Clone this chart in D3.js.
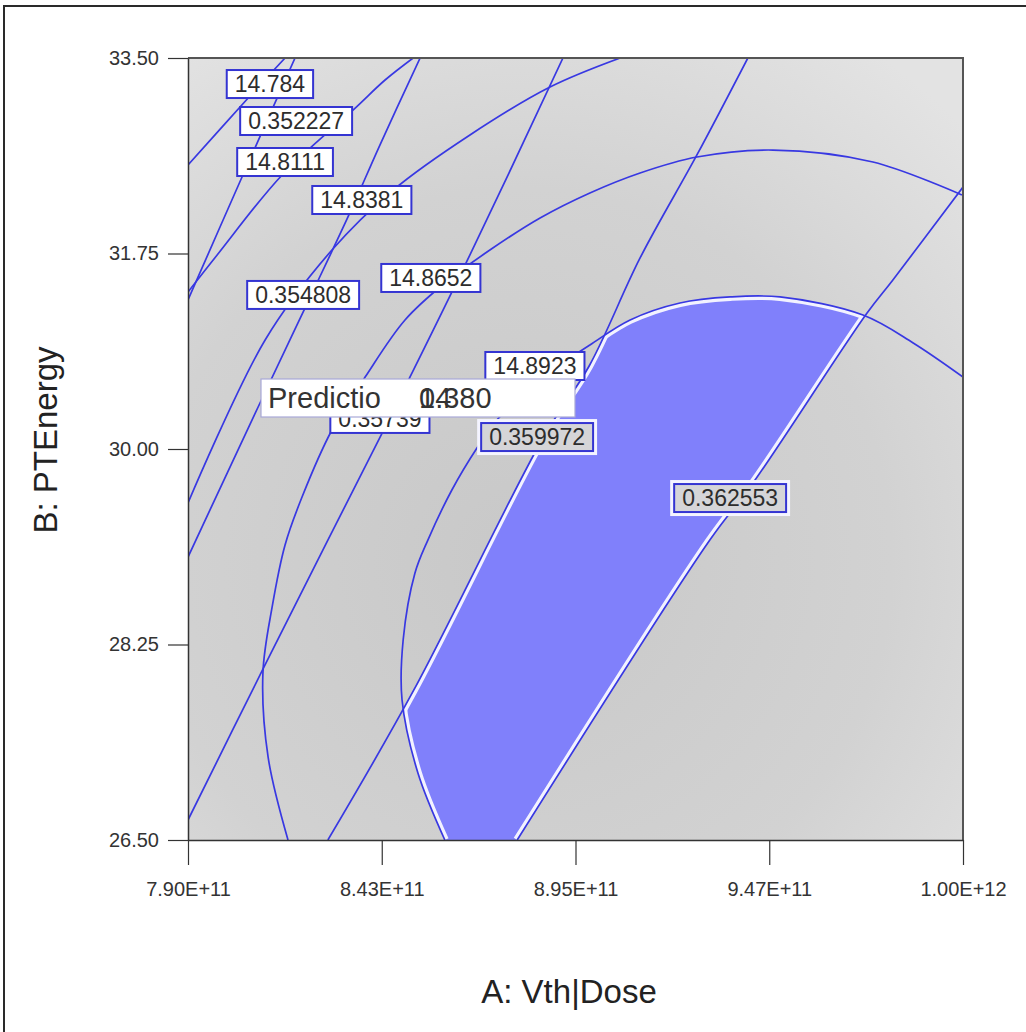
<!DOCTYPE html>
<html>
<head>
<meta charset="utf-8">
<script src="https://cdn.jsdelivr.net/npm/d3@7"></script>
<style>
  html, body { margin: 0; padding: 0; background: #fff; }
  svg { display: block; font-family: "Liberation Sans", Arial, sans-serif; }
</style>
</head>
<body>
<div id="chart"></div>
<script>
// A: Vth|Dose (units of 1e11), B: PTEnergy
const xTicks = [7.9, 8.425, 8.95, 9.475, 10.0];
const xTickLabels = ["7.90E+11", "8.43E+11", "8.95E+11", "9.47E+11", "1.00E+12"];
const yTicks = [26.5, 28.25, 30.0, 31.75, 33.5];

// response 1 contours (the nearly straight family)
const r1_352227 = [[7.900, 31.334], [8.044, 32.417], [8.190, 33.500]];
const r1_354808 = [[7.900, 29.033], [8.090, 30.376], [8.217, 31.262], [8.336, 32.095], [8.420, 32.721], [8.529, 33.500]];
const r1_357390 = [[7.900, 26.679], [8.106, 28.049], [8.279, 29.185], [8.426, 30.143], [8.664, 31.737], [8.916, 33.500]];
const r1_359972 = [[8.279, 26.500], [8.512, 27.843], [8.865, 30.116], [8.987, 30.743], [9.125, 31.710], [9.279, 32.632], [9.417, 33.500]];
const r1_362553 = [[8.792, 26.500], [9.314, 29.185], [9.431, 29.696], [9.740, 31.217], [9.810, 31.513], [10.000, 32.345]];

// response 2 contours (the elliptic family)
const r2_14784 = [[7.900, 32.542], [8.063, 33.142], [8.163, 33.500]];
const r2_148111 = [[7.900, 31.405], [7.979, 31.737], [8.155, 32.453], [8.353, 33.052], [8.434, 33.303], [8.510, 33.500]];
const r2_148381 = [[7.900, 29.517], [8.109, 30.976], [8.290, 31.781], [8.456, 32.318], [8.664, 32.811], [8.881, 33.240], [9.071, 33.500]];
const r2_148652 = [[8.171, 26.500], [8.117, 27.243], [8.103, 27.995], [8.128, 28.586], [8.163, 29.141], [8.209, 29.570],
  [8.290, 30.170], [8.380, 30.644], [8.488, 31.155], [8.596, 31.486], [8.718, 31.781], [8.854, 32.068], [8.989, 32.292],
  [9.125, 32.471], [9.279, 32.614], [9.485, 32.676], [9.756, 32.569], [9.997, 32.274]];
const r2_148923 = [[8.596, 26.500], [8.523, 27.100], [8.480, 27.753], [8.483, 28.290], [8.515, 28.890], [8.550, 29.185],
  [8.615, 29.633], [8.683, 30.009], [8.737, 30.259], [8.827, 30.546], [8.908, 30.752], [8.989, 30.931], [9.098, 31.155],
  [9.233, 31.307], [9.369, 31.361], [9.504, 31.361], [9.729, 31.199], [9.865, 30.949], [10.000, 30.644]];

// contour labels: text, anchor A, anchor B, style
const labelTexts = ["14.784", "0.352227", "14.8111", "14.8381", "0.354808", "14.8652", "14.8923", "0.35739", "0.359972", "0.362553"];
const labelA = [8.122, 8.193, 8.163, 8.371, 8.212, 8.558, 8.840, 8.420, 8.846, 9.369];
const labelB = [33.267, 32.936, 32.569, 32.229, 31.379, 31.531, 30.743, 30.269, 30.107, 29.561];
const labelOnEdge = [false, false, false, false, false, false, false, false, true, true];

const predictionName = "Predictio";
const predictionValues = ["0.380", "14"];

const width = 1026, height = 1032;
const plotLeft = 188, plotRight = 963, plotTop = 58, plotBottom = 840;
const lineColor = "#3838e2";

const x = d3.scaleLinear().domain([7.9, 10.0]).range([plotLeft, plotRight]);
const y = d3.scaleLinear().domain([26.5, 33.5]).range([plotBottom, plotTop]);

const line = d3.line()
  .x(d => x(d[0]))
  .y(d => y(d[1]))
  .curve(d3.curveCatmullRom.alpha(0.5));

const svg = d3.select("#chart").append("svg")
  .attr("width", width)
  .attr("height", height);

const defs = svg.append("defs");

defs.append("clipPath").attr("id", "plotClip")
  .append("rect")
  .attr("x", plotLeft).attr("y", plotTop)
  .attr("width", plotRight - plotLeft).attr("height", plotBottom - plotTop);

const grad = defs.append("radialGradient").attr("id", "bgGrad")
  .attr("gradientUnits", "userSpaceOnUse")
  .attr("cx", 520).attr("cy", 560).attr("r", 620);
grad.append("stop").attr("offset", "0%").attr("stop-color", "#c8c8c8");
grad.append("stop").attr("offset", "60%").attr("stop-color", "#d2d2d2");
grad.append("stop").attr("offset", "100%").attr("stop-color", "#e3e3e3");

// band between the 0.359972 and 0.362553 contours
const bandPath = line(r1_359972) +
  "L" + x(10) + "," + y(33.5) +
  line(r1_362553.slice().reverse()).replace(/^M/, "L") + "Z";
defs.append("clipPath").attr("id", "bandClip").append("path").attr("d", bandPath);

// inside of the 14.8923 contour
const regionPath = line(r2_148923) + "L" + x(10) + "," + y(26.5) + "Z";
defs.append("clipPath").attr("id", "regionClip").append("path").attr("d", regionPath);

// outer frame
svg.append("rect")
  .attr("x", 4).attr("y", 6)
  .attr("width", width + 10).attr("height", height + 10)
  .attr("fill", "#fff")
  .attr("stroke", "#2a2a2a")
  .attr("stroke-width", 2);

// plot background
svg.append("rect")
  .attr("x", plotLeft).attr("y", plotTop)
  .attr("width", plotRight - plotLeft).attr("height", plotBottom - plotTop)
  .attr("fill", "url(#bgGrad)");

// shaded sweet spot
const shade = svg.append("g").attr("clip-path", "url(#plotClip)")
  .append("g").attr("clip-path", "url(#bandClip)")
  .append("g").attr("clip-path", "url(#regionClip)");

shade.append("rect")
  .attr("x", plotLeft).attr("y", plotTop)
  .attr("width", plotRight - plotLeft).attr("height", plotBottom - plotTop)
  .attr("fill", "#8080fb");

[r2_148923, r1_359972, r1_362553].forEach(pts => {
  shade.append("path")
    .attr("d", line(pts))
    .attr("fill", "none")
    .attr("stroke", "#f2f2ff")
    .attr("stroke-width", 8);
});

// contour lines
const allContours = [r1_352227, r1_354808, r1_357390, r1_359972, r1_362553,
  r2_14784, r2_148111, r2_148381, r2_148652, r2_148923];

svg.append("g")
  .attr("clip-path", "url(#plotClip)")
  .selectAll("path")
  .data(allContours)
  .join("path")
  .attr("d", d => line(d))
  .attr("fill", "none")
  .attr("stroke", lineColor)
  .attr("stroke-width", 1.7);

// plot border (top / right)
svg.append("path")
  .attr("d", `M${plotLeft},${plotTop}H${plotRight}V${plotBottom}`)
  .attr("fill", "none")
  .attr("stroke", "#555")
  .attr("stroke-width", 2);

// axes
const yAxis = svg.append("g")
  .attr("transform", `translate(${plotLeft},0)`)
  .call(d3.axisLeft(y).tickValues(yTicks).tickFormat(d3.format(".2f")).tickSize(20).tickSizeOuter(0).tickPadding(9));

const xAxis = svg.append("g")
  .attr("transform", `translate(0,${plotBottom})`)
  .call(d3.axisBottom(x).tickValues(xTicks).tickFormat((d, i) => xTickLabels[i]).tickSize(25).tickSizeOuter(0).tickPadding(17));

[yAxis, xAxis].forEach(ax => {
  ax.select(".domain").attr("stroke", "#333").attr("stroke-width", 1.5);
  ax.selectAll(".tick line").attr("stroke", "#333").attr("stroke-width", 1.2);
  ax.selectAll("text")
    .attr("fill", "#333")
    .style("font-size", "20px")
    .style("font-family", "'Liberation Sans', Arial, sans-serif");
});

// contour labels
const labels = svg.append("g");
labelTexts.forEach((t, i) => {
  const g = labels.append("g")
    .attr("transform", `translate(${x(labelA[i])},${y(labelB[i])})`);
  const txt = g.append("text")
    .attr("text-anchor", "middle")
    .attr("dy", "0.36em")
    .attr("fill", "#2d2d2d")
    .style("font-size", "23px")
    .text(t);
  const w = txt.node().getComputedTextLength() + 16;
  if (labelOnEdge[i]) {
    g.insert("rect", "text")
      .attr("x", -w / 2 - 2).attr("y", -16)
      .attr("width", w + 4).attr("height", 32)
      .attr("fill", "none")
      .attr("stroke", "#f4f4ff")
      .attr("stroke-width", 4);
  }
  g.insert("rect", "text")
    .attr("x", -w / 2).attr("y", -14)
    .attr("width", w).attr("height", 28)
    .attr("fill", labelOnEdge[i] ? "#d5d5d8" : "#fff")
    .attr("stroke", "#3434d2")
    .attr("stroke-width", 2);
});

// prediction flag
const pred = svg.append("g").attr("transform", "translate(261,379)");
pred.append("rect")
  .attr("width", 314).attr("height", 38)
  .attr("fill", "#fff")
  .attr("stroke", "#a8a8d8")
  .attr("stroke-width", 1.2);
pred.append("text")
  .attr("x", 7).attr("y", 29)
  .attr("fill", "#333")
  .style("font-size", "29px")
  .text(predictionName);
predictionValues.forEach(v => {
  pred.append("text")
    .attr("x", 158).attr("y", 29)
    .attr("fill", "#333")
    .style("font-size", "29px")
    .text(v);
});

// axis titles
svg.append("text")
  .attr("x", 569).attr("y", 1003)
  .attr("text-anchor", "middle")
  .attr("fill", "#222")
  .style("font-size", "33px")
  .text("A: Vth|Dose");

svg.append("text")
  .attr("transform", "translate(57,440) rotate(-90)")
  .attr("text-anchor", "middle")
  .attr("fill", "#222")
  .style("font-size", "33px")
  .text("B: PTEnergy");
</script>
</body>
</html>
